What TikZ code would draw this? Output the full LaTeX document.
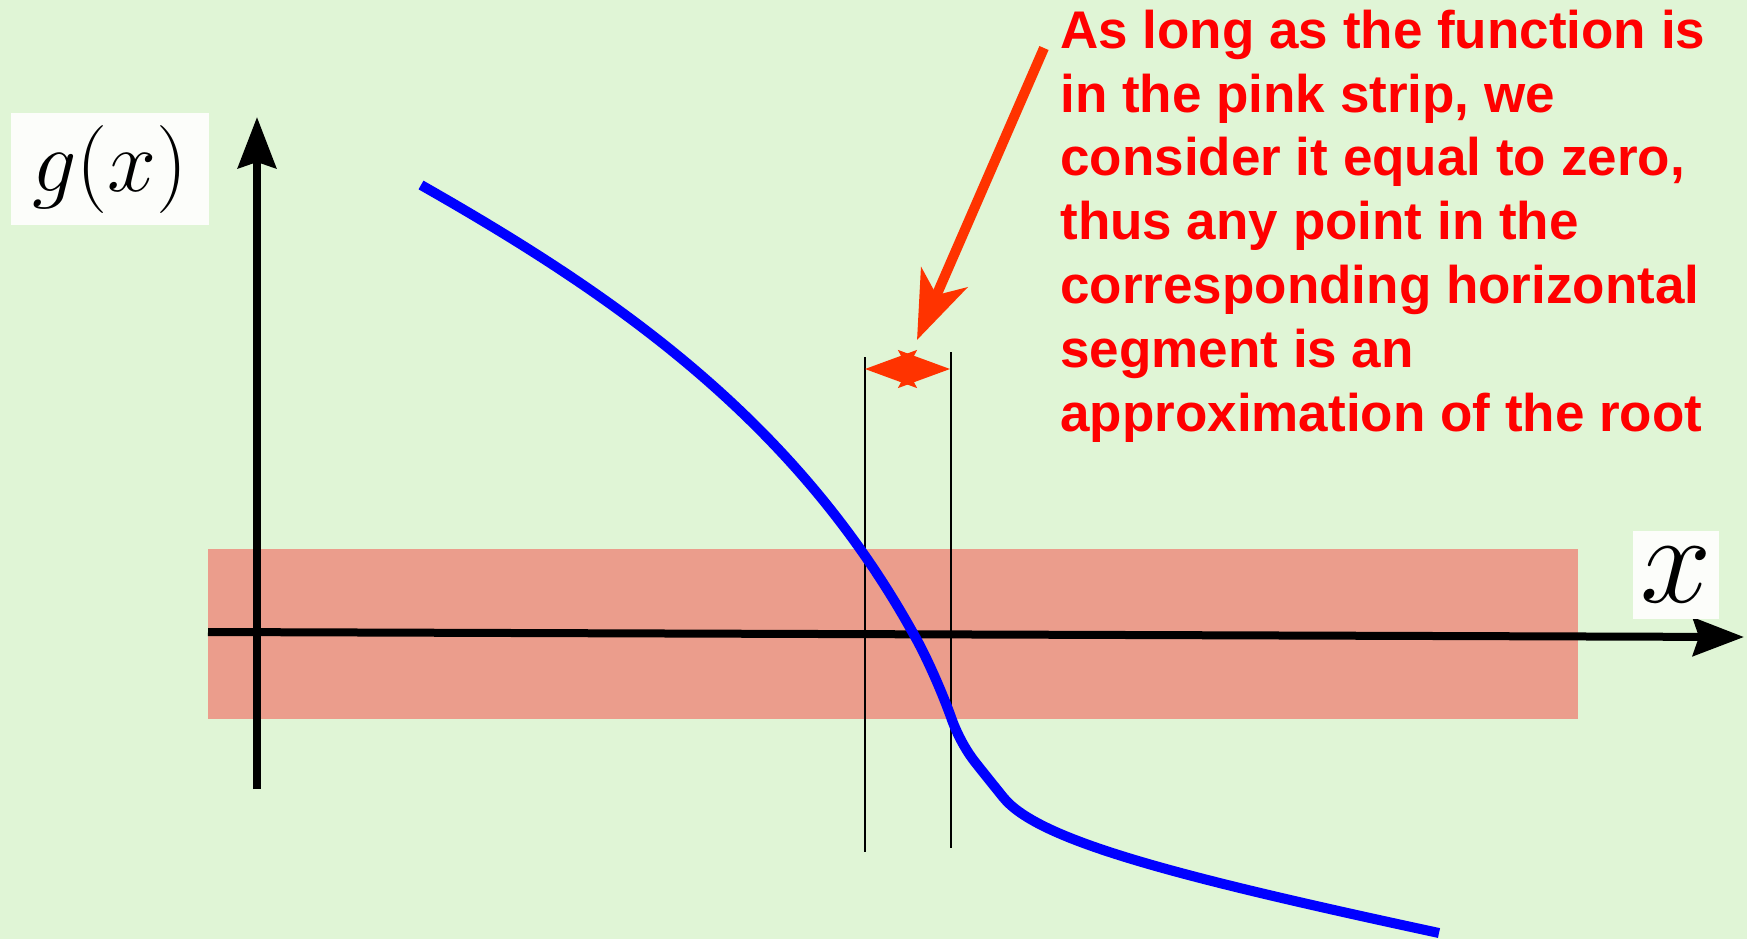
\RequirePackage{fix-cm}
\documentclass[tikz,border=0pt]{standalone}
\usepackage[no-math]{fontspec}
\setmainfont{Liberation Sans}
\usetikzlibrary{arrows.meta}
\definecolor{bgc}{RGB}{224,245,214}
\definecolor{stripc}{RGB}{235,157,140}
\definecolor{arrowred}{RGB}{255,51,0}
\definecolor{boxw}{RGB}{252,253,250}
\tikzset{
  axisline/.style={line width=4pt, -{Stealth[length=25.5pt,width=19pt,inset=3pt]}},
  guide/.style={line width=1pt, black},
  curve/.style={line width=5pt, blue, line cap=butt},
  pointer/.style={line width=5pt, arrowred, -{Stealth[length=34pt,width=25pt,inset=9.5pt]}},
  spanarrow/.style={line width=1pt, arrowred, {Stealth[length=26pt,width=19pt,inset=5pt]}-{Stealth[length=26pt,width=19pt,inset=5pt]}},
  labelbox/.style={fill=boxw, inner sep=0pt},
  note/.style={anchor=base west, align=left, inner sep=0pt, text=red,
    font=\fontsize{26.5}{31.9}\selectfont\bfseries}
}
\begin{document}
\begin{tikzpicture}[x=0.5pt,y=-0.5pt]
\useasboundingbox (0,0) rectangle (1747,939);
\fill[bgc] (0,0) rectangle (1747,939);
% pink strip
\fill[stripc] (208,549) rectangle (1578,719);
% guide lines
\coordinate (g1t) at (865,357);
\coordinate (g1b) at (865,852);
\coordinate (g2t) at (951,352);
\coordinate (g2b) at (951,848);
\draw[guide] (g1t) -- (g1b);
\draw[guide] (g2t) -- (g2b);
% axes
\coordinate (xs) at (208,632);
\coordinate (xe) at (1744,637);
\coordinate (ys) at (257,789);
\coordinate (ye) at (257,117);
\draw[axisline] (xs) -- (xe);
\draw[axisline] (ys) -- (ye);
% axis labels
\node[labelbox, minimum width=99pt, minimum height=56pt] (glab) at (110,169) {\fontsize{44}{52}\selectfont$g(x)$};
\node[labelbox, minimum width=43pt, minimum height=44pt] (xlab) at (1676,575) {\fontsize{64}{72}\selectfont$x$};
% function curve
\draw[curve] (421,185) .. controls (611,293) and (793,417) .. (913,633)
  .. controls (927,657) and (944,697) .. (952,720)
  .. controls (956,731) and (964,748) .. (975,762)
  .. controls (986,776) and (995,787) .. (1003,797)
  .. controls (1038,841) and (1179,877) .. (1439,933);
% span arrow
\coordinate (s1) at (865,369);
\coordinate (s2) at (950,369);
\draw[spanarrow] (s1) -- (s2);
% pointer arrow
\coordinate (pa) at (1044,48);
\coordinate (pb) at (917,340);
\draw[pointer] (pa) -- (pb);
% note
\node[note] (txt) at (1060,431) {As long as the function is\\in the pink strip, we\\consider it equal to zero,\\thus any point in the\\corresponding horizontal\\segment is an\\approximation of the root};
\end{tikzpicture}
\end{document}
